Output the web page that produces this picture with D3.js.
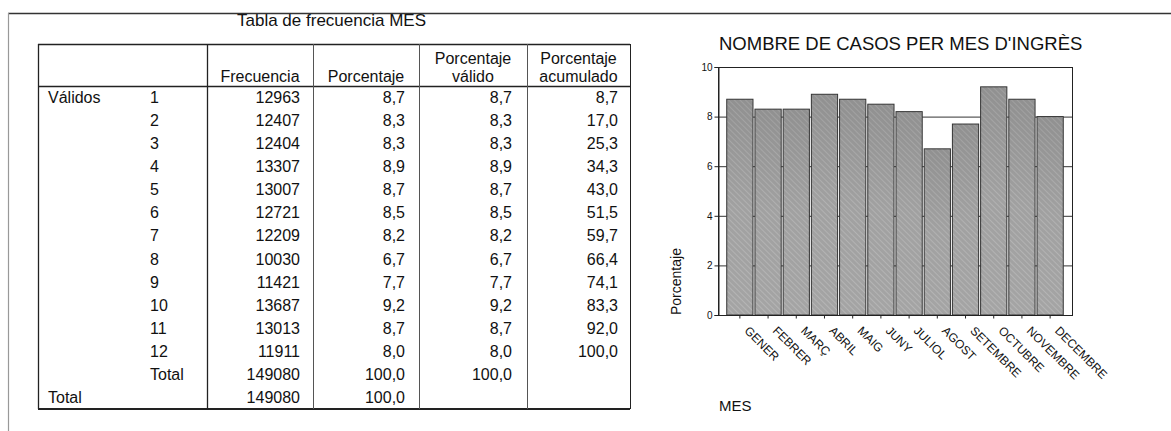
<!DOCTYPE html>
<html><head><meta charset="utf-8">
<script src="https://cdn.jsdelivr.net/npm/d3@7"></script>
<style>
html,body{margin:0;padding:0;background:#fff;}
svg text{font-family:"Liberation Sans",Arial,sans-serif;fill:#111;}
</style></head>
<body><svg id="c" width="1171" height="431"></svg>
<script>
// ---- data ----
const months = ["1","2","3","4","5","6","7","8","9","10","11","12"];
const monthNames = ["GENER","FEBRER","MARÇ","ABRIL","MAIG","JUNY","JULIOL","AGOST","SETEMBRE","OCTUBRE","NOVEMBRE","DECEMBRE"];
const freq = [12963,12407,12404,13307,13007,12721,12209,10030,11421,13687,13013,11911];
const pct = [8.7,8.3,8.3,8.9,8.7,8.5,8.2,6.7,7.7,9.2,8.7,8.0];
const pctValid = [8.7,8.3,8.3,8.9,8.7,8.5,8.2,6.7,7.7,9.2,8.7,8.0];
const pctCum = [8.7,17.0,25.3,34.3,43.0,51.5,59.7,66.4,74.1,83.3,92.0,100.0];
const totalFreq = 149080, totalPct = 100.0, totalValid = 100.0;
const yTicks = [0,2,4,6,8,10];
const headers = [["Frecuencia"],["Porcentaje"],["Porcentaje","válido"],["Porcentaje","acumulado"]];

const svg = d3.select("#c");
const fmt = v => d3.format(".1f")(v).replace(".", ",");

// ---- table ----
const colEdges = [38, 207, 313, 419, 527, 630];
const rowCount = 14;
const yRow = d3.scaleLinear().domain([0, rowCount]).range([86, 409]);
const g = svg.append("g");

g.append("text").attr("x", 237).attr("y", 26).attr("font-size", 17).text("Tabla de frecuencia MES");

// header texts
headers.forEach((h, i) => {
  const cx = (colEdges[i+1] + colEdges[i+2]) / 2;
  h.forEach((line, j) => {
    g.append("text").attr("x", cx).attr("y", 82 - (h.length - 1 - j) * 18)
      .attr("text-anchor", "middle").attr("font-size", 16).text(line);
  });
});

// body rows
const rows = months.map((m, i) => ({lab: i === 0 ? "Válidos" : "", sub: m, cells: [String(freq[i]), fmt(pct[i]), fmt(pctValid[i]), fmt(pctCum[i])]}));
rows.push({lab: "", sub: "Total", cells: [String(totalFreq), fmt(totalPct), fmt(totalValid), ""]});
rows.push({lab: "Total", sub: "", cells: [String(totalFreq), fmt(totalPct), "", ""]});
const rightX = [300, 405, 512, 618];
rows.forEach((r, i) => {
  const by = (yRow(i) + yRow(i+1)) / 2 + 5.5;
  g.append("text").attr("x", 48).attr("y", by).attr("font-size", 16).text(r.lab);
  g.append("text").attr("x", 150).attr("y", by).attr("font-size", 16).text(r.sub);
  r.cells.forEach((c, k) => {
    g.append("text").attr("x", rightX[k]).attr("y", by).attr("text-anchor", "end").attr("font-size", 16).text(c);
  });
});

// table lines
const ln = (x1, y1, x2, y2, w, c) => g.append("line").attr("x1", x1).attr("y1", y1).attr("x2", x2).attr("y2", y2)
  .attr("stroke", c || "#222").attr("stroke-width", w || 1);
ln(38, 44.5, 630, 44.5, 1.5);
ln(38, 86.5, 630, 86.5, 1.5);
ln(38, 409, 630, 409, 2);
colEdges.forEach((x, i) => { if (i !== 1 || true) ln(x + 0.5, 44, x + 0.5, 409, i === 0 || i === 1 ? 1.3 : 1, i >= 2 && i <= 4 ? "#555" : "#222"); });

// frame
ln(8, 13.5, 1171, 13.5, 1.5, "#333");
ln(8.5, 13, 8.5, 431, 1.2, "#999");

// ---- chart ----
const defs = svg.append("defs");
const pat = defs.append("pattern").attr("id", "hatch").attr("patternUnits", "userSpaceOnUse")
  .attr("width", 4).attr("height", 4).attr("patternTransform", "rotate(-45)");
pat.append("rect").attr("width", 4).attr("height", 4).attr("fill", "#a4a4a4");
pat.append("line").attr("x1", 0).attr("y1", 0).attr("x2", 0).attr("y2", 4).attr("stroke", "#bdbdbd").attr("stroke-width", 1.4);
const grad = defs.append("linearGradient").attr("id", "shade").attr("x1", 0).attr("y1", 0).attr("x2", 0).attr("y2", 1);
grad.append("stop").attr("offset", 0).attr("stop-color", "#000").attr("stop-opacity", 0.12);
grad.append("stop").attr("offset", 0.5).attr("stop-color", "#000").attr("stop-opacity", 0.02);
grad.append("stop").attr("offset", 1).attr("stop-color", "#000").attr("stop-opacity", 0);

const L = 718, R = 1072, T = 67, B = 315;
const x = d3.scaleBand().domain(monthNames).range([L, R]).paddingInner(0.07).paddingOuter(0.31);
const y = d3.scaleLinear().domain([0, 10]).range([B, T]);
const cg = svg.append("g");

cg.append("text").attr("x", 719).attr("y", 50).attr("font-size", 18.5).text("NOMBRE DE CASOS PER MES D'INGRÈS");

// gridlines
cg.selectAll(".grid").data(yTicks.filter(t => t > 0 && t < 10)).enter().append("line")
  .attr("x1", L).attr("x2", R).attr("y1", d => y(d) + 0.5).attr("y2", d => y(d) + 0.5)
  .attr("stroke", "#333").attr("stroke-width", 1);

// bars
cg.selectAll(".bar").data(pct).enter().append("rect")
  .attr("x", (d, i) => x(monthNames[i])).attr("y", d => y(d))
  .attr("width", x.bandwidth()).attr("height", d => B - y(d))
  .attr("fill", "url(#hatch)").attr("stroke", "#333").attr("stroke-width", 1);
cg.selectAll(".shade").data(pct).enter().append("rect")
  .attr("x", (d, i) => x(monthNames[i]) + 0.5).attr("y", d => y(d) + 0.5)
  .attr("width", x.bandwidth() - 1).attr("height", d => B - y(d) - 1)
  .attr("fill", "url(#shade)");

// frame of plot
cg.append("rect").attr("x", L + 0.5).attr("y", T + 0.5).attr("width", R - L).attr("height", B - T)
  .attr("fill", "none").attr("stroke", "#222").attr("stroke-width", 1);

// y axis
const ya = cg.append("g").attr("transform", `translate(${L + 0.5},0)`)
  .call(d3.axisLeft(y).tickValues(yTicks).tickSize(4).tickPadding(2).tickFormat(d3.format("d")));
ya.select(".domain").attr("stroke", "#222");
ya.selectAll("text").attr("font-size", 10).attr("font-family", "Liberation Sans, Arial, sans-serif").attr("fill", "#111");
ya.selectAll("line").attr("stroke", "#222");

// x axis
const xa = cg.append("g").attr("transform", `translate(0,${B + 0.5})`)
  .call(d3.axisBottom(x).tickSize(3).tickFormat(""));
xa.select(".domain").remove();
xa.selectAll("line").attr("stroke", "#222");
xa.selectAll(".tick").append("text")
  .attr("transform", "translate(4,16) rotate(45)")
  .attr("text-anchor", "start").attr("font-size", 12)
  .attr("font-family", "Liberation Sans, Arial, sans-serif").attr("fill", "#111")
  .text(d => d);

cg.append("text").attr("x", 719).attr("y", 411).attr("font-size", 15).text("MES");
cg.append("text").attr("transform", "translate(681,315) rotate(-90)").attr("font-size", 14).text("Porcentaje");
</script></body></html>
